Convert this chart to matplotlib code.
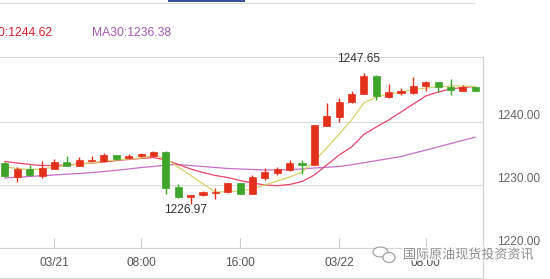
import matplotlib
matplotlib.use("Agg")
import matplotlib.pyplot as plt
from matplotlib.lines import Line2D
from matplotlib.patches import Ellipse, Rectangle
import matplotlib.patheffects as pe

plt.rcParams["font.family"] = ["Liberation Sans", "Noto Sans CJK SC", "DejaVu Sans"]

# hourly candles
opens = [1233.45, 1231.31, 1232.48, 1231.47, 1232.57, 1233.59, 1233.05, 1233.80, 1233.84, 1234.74,
         1234.34, 1234.53, 1234.63, 1235.17, 1229.64, 1228.06, 1228.37, 1228.75, 1228.85, 1230.27,
         1228.58, 1231.15, 1231.90, 1232.32, 1233.48, 1233.16, 1239.37, 1240.79, 1243.06, 1244.33,
         1247.22, 1243.85, 1244.58, 1244.49, 1245.69, 1246.22, 1245.53, 1244.90, 1245.43]
highs = [1233.60, 1232.89, 1233.21, 1233.79, 1234.06, 1234.58, 1234.42, 1234.63, 1235.01, 1234.80,
         1234.90, 1235.00, 1235.32, 1235.37, 1230.16, 1228.40, 1229.05, 1229.48, 1230.35, 1230.35,
         1231.58, 1232.64, 1232.89, 1233.95, 1233.95, 1239.55, 1243.00, 1243.70, 1244.85, 1247.65,
         1247.30, 1245.91, 1245.37, 1247.11, 1246.48, 1246.30, 1246.70, 1245.80, 1245.50]
lows = [1231.30, 1230.43, 1231.50, 1231.15, 1232.50, 1233.00, 1233.00, 1233.75, 1233.68, 1234.00,
        1234.20, 1234.45, 1234.60, 1228.53, 1227.95, 1226.97, 1228.30, 1227.84, 1228.80, 1228.50,
        1228.50, 1230.79, 1231.63, 1232.20, 1231.69, 1233.10, 1239.30, 1239.90, 1243.00, 1244.30,
        1243.43, 1243.80, 1244.22, 1244.40, 1244.85, 1244.74, 1244.22, 1244.85, 1244.85]
closes = [1231.35, 1232.48, 1231.53, 1232.64, 1233.59, 1233.05, 1233.90, 1233.95, 1234.74, 1234.15,
          1234.63, 1234.85, 1235.17, 1229.57, 1228.06, 1228.37, 1228.89, 1228.85, 1230.27, 1228.58,
          1231.26, 1232.10, 1232.48, 1233.52, 1233.21, 1239.48, 1240.90, 1243.06, 1244.38, 1247.22,
          1244.06, 1244.64, 1244.85, 1245.69, 1246.22, 1245.53, 1245.01, 1245.43, 1244.90]

ma5 = [1232.84, 1232.61, 1232.45, 1232.53, 1232.84, 1233.08, 1233.32, 1233.48, 1233.79, 1233.95,
       1234.11, 1234.27, 1234.66, 1234.14, 1232.84, 1231.52, 1230.19, 1228.85, 1228.97, 1229.05,
       1229.37, 1230.00, 1230.63, 1231.26, 1232.05, 1233.79, 1235.85, 1238.06, 1240.27, 1242.95,
       1243.90, 1244.38, 1244.69, 1245.09, 1245.32, 1245.48, 1245.64, 1245.64, 1245.56]
ma10 = [1233.71, 1233.48, 1233.24, 1233.08, 1233.08, 1233.16, 1233.32, 1233.48, 1233.63, 1233.87,
        1234.03, 1234.19, 1234.34, 1233.95, 1233.24, 1232.53, 1231.97, 1231.50, 1231.18, 1230.71,
        1230.32, 1230.00, 1229.89, 1230.08, 1230.55, 1231.58, 1233.16, 1234.74, 1236.00, 1237.98,
        1239.16, 1240.27, 1241.53, 1242.80, 1244.06, 1244.69, 1245.17, 1245.40, 1245.56]
ma30 = [1231.11, 1231.23, 1231.34, 1231.47, 1231.58, 1231.71, 1231.82, 1231.97, 1232.13, 1232.32,
        1232.53, 1232.76, 1232.92, 1233.16, 1233.24, 1233.08, 1232.92, 1232.76, 1232.61, 1232.53,
        1232.45, 1232.37, 1232.37, 1232.45, 1232.53, 1232.69, 1232.80, 1232.92, 1233.19, 1233.52,
        1233.85, 1234.17, 1234.50, 1235.01, 1235.51, 1236.02, 1236.54, 1237.05, 1237.55]

tick_pos = [4, 11, 19, 27, 34]
tick_labels = ["03/21", "08:00", "16:00", "03/22", "08:00"]
y_ticks = [1220, 1230, 1240]

RED = "#e2301c"
GREEN = "#3fa52a"

W, H = 550, 279
fig = plt.figure(figsize=(5.5, 2.79), dpi=100)
ax = fig.add_axes([0, (H - 248.3) / H, 482.7 / W, (248.3 - 57) / H])

x = list(range(len(closes)))
ax.plot(x, ma30, color="#c76fc8", lw=0.9, zorder=2)
ax.plot(x, ma10, color="#e8456a", lw=0.9, zorder=2)
ax.plot(x, ma5, color="#d6d26a", lw=0.9, zorder=2)

for i in x:
    o, h, l, c = opens[i], highs[i], lows[i], closes[i]
    col = RED if c >= o else GREEN
    ax.vlines(i, l, h, color=col, lw=1, zorder=3)
    bot = min(o, c)
    ht = max(abs(c - o), 0.16)
    ax.bar(i, ht, bottom=bot, width=0.57, color=col, edgecolor=col, lw=0.5, zorder=4)

# max / min labels
hi = highs.index(max(highs))
lo = lows.index(min(lows))
ax.annotate(f"{highs[hi]:.2f}", xy=(hi, highs[hi]), xytext=(-4, 10.5), textcoords="offset points",
            ha="center", va="center", fontsize=8.6, color="#333333", annotation_clip=False)
ax.annotate(f"{lows[lo]:.2f}", xy=(lo, lows[lo]), xytext=(-4, -4.5), textcoords="offset points",
            ha="center", va="center", fontsize=8.6, color="#333333", annotation_clip=False)

ax.set_xlim(-0.4, 38.6)
ax.set_ylim(1220, 1250.22)
ax.set_xticks(tick_pos)
ax.set_xticklabels(tick_labels)
ax.set_yticks(y_ticks)
ax.set_yticklabels([f"{v:.2f}" for v in y_ticks])
ax.yaxis.tick_right()
ax.tick_params(axis="x", direction="in", length=7.2, width=0.8, color="#cccccc",
               labelsize=8.6, labelcolor="#555555", pad=6)
ax.tick_params(axis="y", length=0, labelsize=8.6, labelcolor="#666666", pad=10)
for lab in ax.get_yticklabels():
    lab.set_va("bottom")
ax.grid(axis="y", color="#dcdcdc", lw=0.8)
ax.set_axisbelow(True)
for s in ["left"]:
    ax.spines[s].set_visible(False)
ax.spines["top"].set_color("#d6d6d6")
ax.spines["bottom"].set_color("#d6d6d6")
ax.spines["right"].set_color("#d0d0d0")
for s in ["top", "bottom", "right"]:
    ax.spines[s].set_linewidth(0.8)

# frame lines outside the axes
fig.add_artist(Line2D([0, 475 / W], [1 - 2.7 / H] * 2, color="#dddddd", lw=0.8))
fig.add_artist(Rectangle((168 / W, 1 - 1.8 / H), 77 / W, 1.8 / H, color="#3b4f9e", lw=0))
fig.add_artist(Line2D([0, 482.7 / W], [1 - 277.7 / H] * 2, color="#d6d6d6", lw=0.8))
fig.add_artist(Line2D([482.7 / W] * 2, [1 - 248.3 / H, 1 - 277.7 / H], color="#d0d0d0", lw=0.8))

# header
fig.text(52 / W, 1 - 33 / H, "MA10:1244.62", ha="right", va="center", fontsize=8.7, color="#d2232f")
fig.text(92 / W, 1 - 33 / H, "MA30:1236.38", ha="left", va="center", fontsize=8.7, color="#a65ab6")

# watermark
stroke = [pe.withStroke(linewidth=2, foreground="white")]
fig.add_artist(Ellipse((380.5 / W, 1 - 252 / H), 15 / W, 10 / H, transform=fig.transFigure,
                       fill=True, facecolor="white", edgecolor="#9a9a9a", lw=0.8))
fig.add_artist(Ellipse((389 / W, 1 - 257.5 / H), 12 / W, 10 / H, transform=fig.transFigure,
                       fill=True, facecolor="white", edgecolor="#9a9a9a", lw=0.8))
fig.text(403 / W, 1 - 255 / H, "国际原油现货投资资讯", ha="left", va="center", fontsize=9.4,
         color="#8c8c8c", family=["Noto Sans CJK SC"], path_effects=stroke)

fig.savefig("out.png", dpi=100)
